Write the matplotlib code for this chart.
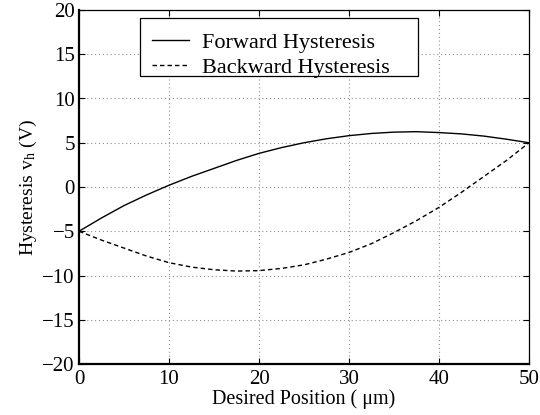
import matplotlib
matplotlib.use("Agg")
import matplotlib.pyplot as plt
from matplotlib.patches import Rectangle

position = [0, 2.5, 5, 7.5, 10, 12.5, 15, 17.5, 20, 22.5, 25, 27.5, 30, 32.5, 35, 37.5, 40, 42.5, 45, 47.5, 50]
forward = [-5.0, -3.5, -2.1, -0.9, 0.2, 1.2, 2.1, 3.0, 3.8, 4.45, 5.0, 5.45, 5.8, 6.05, 6.2, 6.25, 6.15, 6.0, 5.75, 5.4, 5.0]
backward = [-5.0, -6.0, -6.9, -7.8, -8.55, -9.05, -9.35, -9.5, -9.45, -9.2, -8.8, -8.15, -7.4, -6.4, -5.15, -3.8, -2.3, -0.6, 1.2, 3.0, 5.0]
xticks = [0, 10, 20, 30, 40, 50]
yticks = [-20, -15, -10, -5, 0, 5, 10, 15, 20]

plt.rcParams['font.family'] = ['Liberation Serif', 'DejaVu Serif']
plt.rcParams['mathtext.fontset'] = 'stix'

fig = plt.figure(figsize=(5.4, 4.15), dpi=100)
ax = fig.add_axes([79/540, 51/415, 450/540, 354/415])

ax.plot(position, forward, color='black', lw=1.0, linestyle='-', label='Forward Hysteresis')
ax.plot(position, backward, color='black', lw=1.0, linestyle=(0, (3.2, 2.2)), label='Backward Hysteresis')

ax.set_xlim(0, 50)
ax.set_ylim(-20, 20)
ax.set_xticks(xticks)
ax.set_yticks(yticks)
ax.set_xticklabels([str(t) for t in xticks])
ax.set_yticklabels([('\u2212' + str(-t)) if t < 0 else str(t) for t in yticks])
ax.tick_params(direction='in', top=True, right=True, length=4, width=0.8, labelsize=15)
ax.tick_params(axis='y', pad=3)
ax.tick_params(axis='x', pad=4)
ax.grid(True, color='#909090', linestyle=(0, (1, 2.5)), linewidth=0.8)

for s in ['left', 'bottom']:
    ax.spines[s].set_linewidth(1.6)
for s in ['top', 'right']:
    ax.spines[s].set_linewidth(0.9)

ax.set_xlabel('Desired Position ( \u03bcm)', fontsize=14.5, labelpad=0.5)
ax.set_ylabel('Hysteresis v$_\\mathregular{h}$ (V)', fontsize=14, labelpad=2)

# legend frame (MATLAB-style, with extra space on the right)
frame = Rectangle(((140-79)/450, (364-76)/354), (418-140)/450, (76-18)/354,
                  transform=ax.transAxes, facecolor='white', edgecolor='black',
                  linewidth=0.9, zorder=4)
ax.add_patch(frame)

leg = ax.legend(loc='upper left', bbox_to_anchor=((152-79)/450, (364-32)/354), fontsize=16,
                frameon=False, handlelength=1.67, handletextpad=0.58, borderpad=0,
                labelspacing=0.22, borderaxespad=0)
leg.set_zorder(5)

fig.savefig('out.png', dpi=100)
